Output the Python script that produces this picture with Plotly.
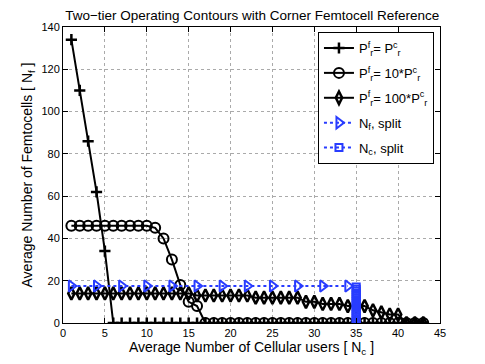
import plotly.graph_objects as go

# average number of cellular users (x axis)
nc = list(range(1, 44))

# P_r^f = P_r^c
nf_equal = [134, 110, 86, 62, 34] + [0] * 38
# P_r^f = 10*P_r^c
nf_10x = [46] * 10 + [45, 40, 30, 18, 10, 8] + [0] * 27
# P_r^f = 100*P_r^c
nf_100x = ([14] * 15 + [13] * 7 + [12] * 6 + [10, 10, 9, 9, 9]
           + [8, 8, 8, 6, 5, 4, 4, 0, 0, 0])

# split operating points
split_nf_x = [1, 4, 7, 10, 13, 16, 19, 22, 25, 28, 31, 34]
split_nf_y = [17.5] * 12
split_nc_x = [35] * 18
split_nc_y = list(range(0, 18))

BLUE = 'rgb(40,60,255)'
FONT = 'Liberation Sans, Arial, sans-serif'

fig = go.Figure()
fig.add_trace(go.Scatter(
    x=nc, y=nf_equal, mode='lines+markers', legendgroup='a',
    name='P<sup>f</sup><sub>r</sub>= P<sup>c</sup><sub>r</sub>',
    line=dict(color='black', width=2),
    marker=dict(symbol='cross-thin-open', size=8, color='black',
                line=dict(color='black', width=2.5)),
))
fig.add_trace(go.Scatter(
    x=nc, y=nf_10x, mode='lines+markers', legendgroup='b',
    name='P<sup>f</sup><sub>r</sub>= 10*P<sup>c</sup><sub>r</sub>',
    line=dict(color='black', width=2),
    marker=dict(symbol='circle-open', size=10, color='black',
                line=dict(color='black', width=2)),
))
fig.add_trace(go.Scatter(
    x=nc, y=nf_100x, mode='lines+markers', legendgroup='c',
    name='P<sup>f</sup><sub>r</sub>= 100*P<sup>c</sup><sub>r</sub>',
    line=dict(color='black', width=2),
    marker=dict(symbol='diamond-tall-open', size=9, color='black',
                line=dict(color='black', width=2.5)),
))
fig.add_trace(go.Scatter(
    x=split_nf_x, y=split_nf_y, mode='lines+markers', legendgroup='d',
    name='N<sub>f</sub>, split',
    line=dict(color=BLUE, width=2, dash='dot'),
    marker=dict(symbol='triangle-right-open', size=10, color=BLUE,
                line=dict(color=BLUE, width=2)),
))
fig.add_trace(go.Scatter(
    x=split_nc_x, y=split_nc_y, mode='lines+markers', legendgroup='e',
    name='N<sub>c</sub>, split',
    line=dict(color=BLUE, width=2, dash='dot'),
    marker=dict(symbol='square-open', size=7, color=BLUE,
                line=dict(color=BLUE, width=2)),
))

axis_common = dict(
    showline=True, linecolor='black', linewidth=1, mirror='ticks',
    ticks='inside', ticklen=5, tickcolor='black',
    showgrid=True, gridcolor='rgb(170,170,170)', griddash='dot', gridwidth=1,
    zeroline=False, tickfont=dict(size=11, color='black', family=FONT),
)

# the page body adds an 8px offset, so the figure is a bit smaller
fig.update_layout(
    width=477, height=356,
    margin=dict(l=55, r=45, t=19, b=41),
    paper_bgcolor='white', plot_bgcolor='white',
    font=dict(family=FONT, color='black'),
    title=dict(text='Two\u2212tier Operating Contours with Corner Femtocell Reference',
               x=0.512, xanchor='center', y=0.979, yanchor='middle',
               font=dict(size=13.5, color='black', family=FONT)),
    xaxis=dict(range=[0, 45], tickvals=list(range(0, 46, 5)),
               title=dict(text='Average Number of Cellular users [ N<sub>c</sub> ]',
                          font=dict(size=14), standoff=1),
               **axis_common),
    yaxis=dict(range=[0, 140], tickvals=list(range(0, 141, 20)),
               title=dict(text='Average Number of Femtocells [ N<sub>f</sub> ]',
                          font=dict(size=14), standoff=5),
               **axis_common),
    legend=dict(x=0.984, y=0.983, xanchor='right', yanchor='top',
                bgcolor='white', bordercolor='black', borderwidth=1,
                font=dict(size=13, color='black', family=FONT),
                tracegroupgap=5, itemwidth=30),
    showlegend=True,
)

fig.write_html("out.html")
